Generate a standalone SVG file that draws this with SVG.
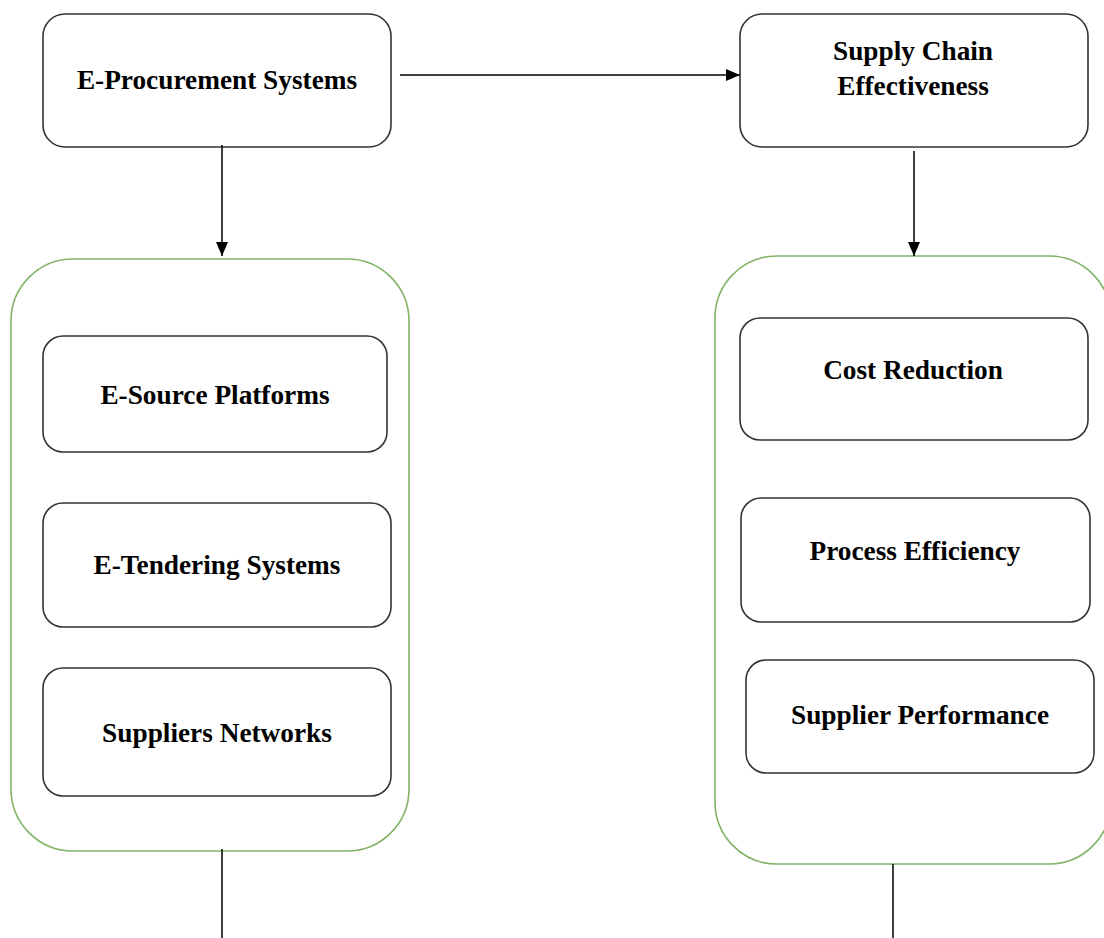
<svg xmlns="http://www.w3.org/2000/svg" width="1104" height="938" viewBox="0 0 1104 938">
<defs>
<style>
.box{fill:#fff;stroke:#333;stroke-width:1.6}
.grp{fill:#fff;stroke:#82b366;stroke-width:1.6}
.lbl{font-family:"Liberation Serif",serif;font-weight:bold;font-size:27.3px;fill:#000;text-anchor:middle}
.edge{stroke:#000;stroke-width:1.5;fill:none}
</style>
<marker id="arr" viewBox="0 0 14 14" markerWidth="14" markerHeight="14" refX="14" refY="7" orient="auto" markerUnits="userSpaceOnUse">
<path d="M0,1 L14,7 L0,13 Z" fill="#000"/>
</marker>
</defs>
<rect width="1104" height="938" fill="#fff"/>
<g id="group-left"><rect class="grp" x="11" y="259" width="398" height="592" rx="62"/></g>
<g id="group-right"><rect class="grp" x="715" y="256" width="396" height="608" rx="62"/></g>
<g id="n-eproc"><rect class="box" x="43" y="14" width="348" height="133" rx="22"/><text class="lbl" x="217" y="89">E-Procurement Systems</text></g>
<g id="n-sce"><rect class="box" x="740" y="14" width="348" height="133" rx="22"/><text class="lbl" x="913" y="60">Supply Chain</text><text class="lbl" x="913" y="95">Effectiveness</text></g>
<g id="n-esource"><rect class="box" x="43" y="336" width="344" height="116" rx="20"/><text class="lbl" x="215" y="404">E-Source Platforms</text></g>
<g id="n-etender"><rect class="box" x="43" y="503" width="348" height="124" rx="20"/><text class="lbl" x="217" y="574">E-Tendering Systems</text></g>
<g id="n-supnet"><rect class="box" x="43" y="668" width="348" height="128" rx="20"/><text class="lbl" x="217" y="742">Suppliers Networks</text></g>
<g id="n-cost"><rect class="box" x="740" y="318" width="348" height="122" rx="20"/><text class="lbl" x="913" y="379">Cost Reduction</text></g>
<g id="n-proc"><rect class="box" x="741" y="498" width="349" height="124" rx="20"/><text class="lbl" x="915" y="560">Process Efficiency</text></g>
<g id="n-supperf"><rect class="box" x="746" y="660" width="348" height="113" rx="20"/><text class="lbl" x="920" y="724">Supplier Performance</text></g>
<g id="connectors">
<line class="edge" x1="400" y1="75" x2="740" y2="75" marker-end="url(#arr)"/>
<line class="edge" x1="222" y1="145" x2="222" y2="256" marker-end="url(#arr)"/>
<line class="edge" x1="914" y1="151" x2="914" y2="256" marker-end="url(#arr)"/>
<line class="edge" x1="222" y1="849" x2="222" y2="938"/>
<line class="edge" x1="893" y1="864" x2="893" y2="938"/>
</g>
</svg>
